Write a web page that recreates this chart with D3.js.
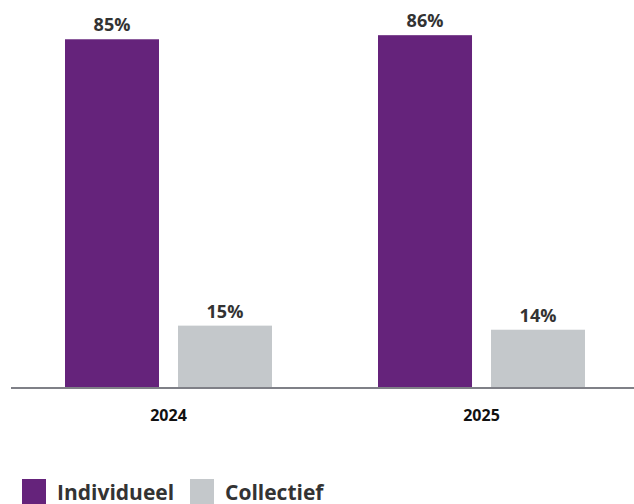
<!DOCTYPE html>
<html>
<head>
<meta charset="utf-8">
<script src="https://cdn.jsdelivr.net/npm/d3@7"></script>
<style>
  body { margin: 0; background: #fff; }
  text { font-family: 'Open Sans', sans-serif; }
</style>
</head>
<body>
<div id="app"></div>
<script>
'use strict'
const years = ['2024', '2025']
const series = ['Individueel', 'Collectief']
const individueel = [85, 86]
const collectief = [15, 14]
const colors = ['#65237b', '#c4c8cb']

const width = 634
const height = 504
const baseY = 387

const svg = d3.select('#app').append('svg')
  .attr('width', width)
  .attr('height', height)

const x0 = d3.scaleBand()
  .domain(years)
  .range([65, 585])
  .paddingInner(0.3387)
  .paddingOuter(0)

const x1 = d3.scaleBand()
  .domain(series)
  .range([0, x0.bandwidth()])
  .paddingInner(0.168)

const y = d3.scaleLinear()
  .domain([0, 94.6])
  .range([baseY, 0])

const rows = years.map((yr, i) => ({
  year: yr,
  values: [
    { key: series[0], v: individueel[i] },
    { key: series[1], v: collectief[i] }
  ]
}))

const groups = svg.selectAll('.group')
  .data(rows)
  .enter()
  .append('g')
  .attr('class', 'group')
  .attr('transform', d => `translate(${x0(d.year)}, 0)`)

groups.selectAll('rect')
  .data(d => d.values)
  .enter()
  .append('rect')
  .attr('x', d => x1(d.key))
  .attr('y', d => y(d.v))
  .attr('width', x1.bandwidth())
  .attr('height', d => baseY - y(d.v))
  .style('fill', (d, i) => colors[i])

groups.selectAll('.val')
  .data(d => d.values)
  .enter()
  .append('text')
  .attr('class', 'val')
  .attr('x', d => x1(d.key) + x1.bandwidth() / 2)
  .attr('y', d => y(d.v) - 8)
  .attr('text-anchor', 'middle')
  .style('font-size', '18px')
  .style('font-weight', 700)
  .style('fill', '#333')
  .text(d => d.v + '%')

// baseline
svg.append('line')
  .attr('x1', 11).attr('x2', width)
  .attr('y1', baseY + 1).attr('y2', baseY + 1)
  .style('stroke', '#7f8087')
  .style('stroke-width', 2)

// x axis labels
const xAxis = svg.append('g')
  .attr('transform', `translate(0, ${baseY + 1})`)
  .call(d3.axisBottom(x0).tickSize(0).tickPadding(22))
xAxis.select('.domain').remove()
xAxis.selectAll('text')
  .style('font-family', "'Open Sans', sans-serif")
  .style('font-size', '16px')
  .style('font-weight', 700)
  .style('fill', '#111')

// legend
const legend = svg.append('g')
  .attr('transform', 'translate(22, 479)')
const legX = [0, 168]
series.forEach((s, i) => {
  const g = legend.append('g').attr('transform', `translate(${legX[i]}, 0)`)
  g.append('rect')
    .attr('width', 24).attr('height', 25)
    .style('fill', colors[i])
  g.append('text')
    .attr('x', 35).attr('y', 21)
    .style('font-size', '21px')
    .style('font-weight', 700)
    .style('fill', '#333')
    .text(s)
})
</script>
</body>
</html>
